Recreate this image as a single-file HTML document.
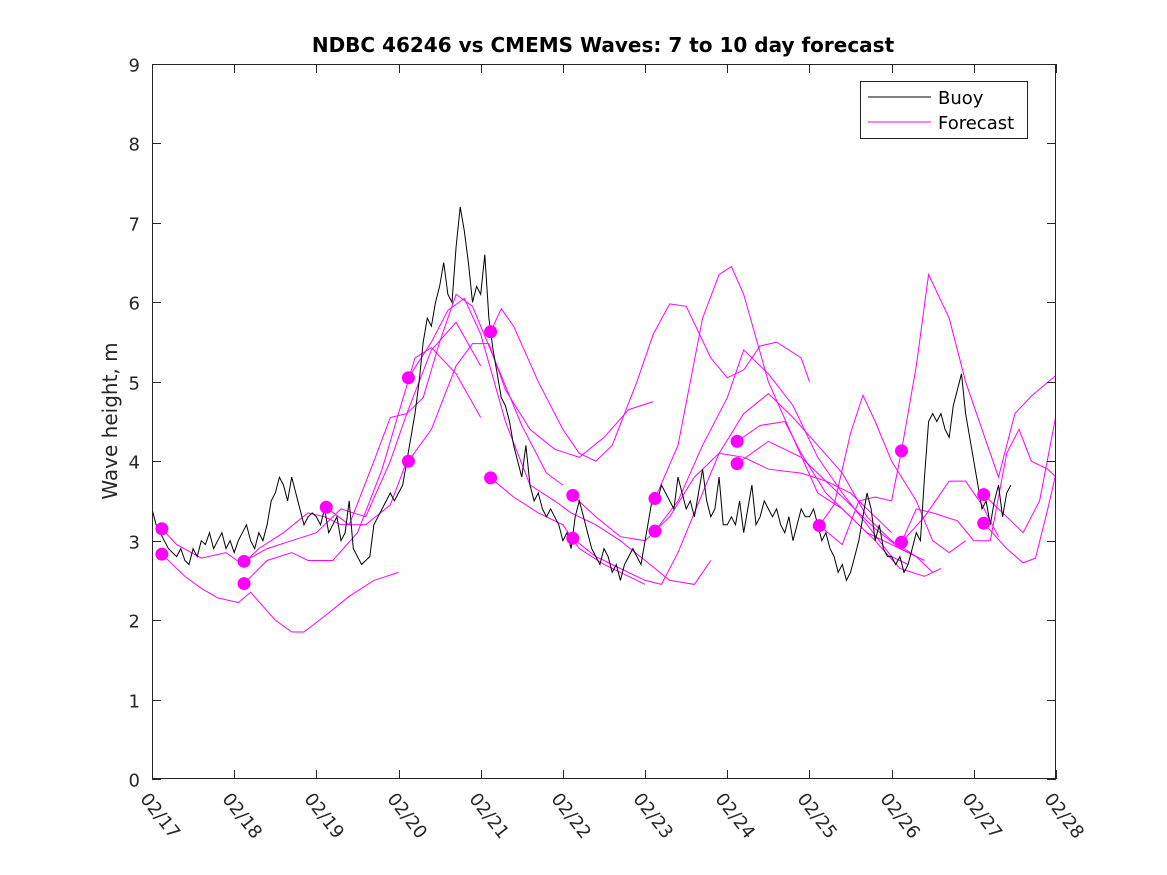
<!DOCTYPE html>
<html><head><meta charset="utf-8"><style>
html,body{margin:0;padding:0;background:#fff;}
svg{display:block;font-family:"DejaVu Sans","Liberation Sans",sans-serif;}
</style></head><body>
<svg id="chart" width="1167" height="875">
<defs><clipPath id="clip"><rect x="152" y="64" width="904" height="715"/></clipPath></defs>
<rect x="0" y="0" width="1167" height="875" fill="#fff"/>
<text x="603" y="52" text-anchor="middle" font-size="20" font-weight="bold" fill="#000">NDBC 46246 vs CMEMS Waves: 7 to 10 day forecast</text>
<g id="plot"></g>
<g>
<rect x="860.5" y="81.5" width="167" height="57" fill="#fff" stroke="#262626" stroke-width="1"/>
<line x1="868" y1="97" x2="931" y2="97" stroke="#000" stroke-width="1"/>
<text x="938" y="104" font-size="18" fill="#000">Buoy</text>
<line x1="868" y1="122" x2="931" y2="122" stroke="#f0f" stroke-width="1"/>
<text x="938" y="129" font-size="18" fill="#000">Forecast</text>
</g>
</svg>
<script>
const xTicks = ["02/17","02/18","02/19","02/20","02/21","02/22","02/23","02/24","02/25","02/26","02/27","02/28"];
const yTicks = [0,1,2,3,4,5,6,7,8,9];
const buoyStart = 0, buoyStep = 0.05;
const buoy = [3.4,3.2,3.1,3.0,2.9,2.85,2.8,2.9,2.75,2.7, 2.9,2.8,3.0,2.95,3.1,2.9,3.0,3.1,2.9,3.0,
2.85,3.0,3.1,3.2,3.0,2.9,3.1,3.0,3.2,3.5, 3.6,3.8,3.7,3.5,3.8,3.6,3.4,3.2,3.3,3.35,
3.3,3.2,3.4,3.1,3.2,3.3,3.0,3.1,3.5,2.9, 2.8,2.7,2.75,2.8,3.2,3.3,3.4,3.5,3.6,3.5,
3.6,3.7,4.0,4.3,4.6,5.0,5.5,5.8,5.7,6.0, 6.2,6.5,6.1,6.0,6.7,7.2,6.9,6.5,6.0,6.2,
6.1,6.6,5.8,5.4,5.1,4.8,4.7,4.5,4.2,4.0, 3.8,4.2,3.7,3.5,3.6,3.4,3.3,3.4,3.3,3.2,
3.0,3.1,2.9,3.3,3.5,3.3,3.1,2.9,2.8,2.7, 2.9,2.8,2.6,2.7,2.5,2.7,2.8,2.9,2.8,2.7,
3.0,3.3,3.6,3.5,3.7,3.6,3.5,3.4,3.8,3.6, 3.4,3.5,3.3,3.6,3.9,3.5,3.3,3.4,3.8,3.2,
3.2,3.3,3.2,3.5,3.1,3.4,3.7,3.2,3.3,3.5, 3.4,3.3,3.4,3.2,3.1,3.3,3.0,3.2,3.4,3.3,
3.3,3.4,3.2,3.0,3.1,2.9,2.8,2.6,2.7,2.5, 2.6,2.8,3.0,3.3,3.6,3.4,3.0,3.2,2.9,2.8,
2.8,2.7,2.8,2.6,2.7,2.9,3.1,3.0,3.8,4.5, 4.6,4.5,4.6,4.4,4.3,4.7,4.9,5.1,4.6,4.3,
4.0,3.7,3.4,3.5,3.2,3.5,3.7,3.3,3.6,3.7];
const forecastDays = [
[0.12,0.4,0.6,0.8,1.05,1.2,1.5,1.7,1.85,2.1,2.4,2.7,3.0],
[0.12,0.3,0.6,0.9,1.1,1.3,1.6,1.9,2.1,2.3,2.6,2.9,3.1],
[1.12,1.4,1.7,2.0,2.3,2.6,2.9,3.1,3.4,3.7,4.0],
[1.12,1.4,1.7,1.9,2.2,2.5,2.8,3.0,3.2,3.4,3.7,4.0],
[2.12,2.4,2.7,2.9,3.1,3.3,3.5,3.7,3.9,4.2,4.5,4.8,5.0],
[3.12,3.4,3.7,3.9,4.1,4.3,4.6,4.9,5.2,5.5,5.8,6.1],
[3.12,3.4,3.6,3.8,4.0,4.3,4.6,4.9,5.1,5.4,5.7,6.0,6.3,6.6,6.8],
[4.12,4.4,4.7,5.0,5.2,5.5,5.8,6.0],
[4.12,4.25,4.4,4.7,5.0,5.2,5.4,5.6,5.9,6.1,6.3,6.5,6.8,7.0,7.2,7.4,7.6,7.9,8.0],
[5.12,5.4,5.7,6.0,6.3,6.6,6.9,7.2,7.5,7.9,8.2,8.5,8.8,9.0],
[5.12,5.4,5.7,6.0,6.2,6.4,6.7,6.9,7.2,7.5,7.8,8.1,8.4,8.7,9.0,9.3],
[6.12,6.4,6.7,6.9,7.05,7.2,7.5,7.8,8.1,8.4,8.7,9.0,9.3,9.5],
[6.12,6.4,6.7,7.0,7.2,7.5,7.8,8.1,8.4,8.7,9.0,9.2],
[7.12,7.4,7.7,7.9,8.2,8.5,8.8,9.1,9.4,9.6],
[7.12,7.5,7.9,8.2,8.5,8.8,9.1,9.4],
[8.12,8.4,8.6,8.8,9.0,9.12],
[8.12,8.3,8.5,8.65,8.8,9.0,9.3,9.5,9.7,9.9],
[9.12,9.3,9.45,9.7,9.9,10.1,10.3,10.5,10.7,11.0],
[9.12,9.3,9.5,9.8,10.0,10.2,10.4,10.55,10.7,10.9,11.0],
[9.12,9.4,9.7,9.9,10.1,10.3],
[10.12,10.4,10.6,10.8,11.0],
[10.12,10.4,10.6,10.75,10.9,11.0]];
const forecastVals = [
[2.83,2.55,2.4,2.28,2.22,2.35,2.0,1.85,1.85,2.05,2.3,2.5,2.6],
[3.15,2.95,2.78,2.85,2.7,2.9,3.1,3.35,3.3,3.2,3.2,3.45,4.0],
[2.74,2.9,3.0,3.1,3.4,3.3,4.0,4.6,5.4,5.75,5.2],
[2.46,2.75,2.85,2.75,2.75,3.1,3.9,4.6,5.3,5.43,5.1,4.55],
[3.42,3.2,4.0,4.55,4.6,4.8,5.5,6.1,5.95,5.2,4.45,3.85,3.7],
[4.0,4.4,5.2,5.48,5.48,4.9,4.4,4.15,4.05,4.3,4.65,4.75],
[5.05,5.5,5.9,6.05,5.6,4.5,3.7,3.5,3.35,3.2,3.0,2.75,2.5,2.45,2.75],
[3.79,3.55,3.35,3.2,2.9,2.7,2.55,2.45],
[5.63,5.92,5.7,5.0,4.4,4.1,4.0,4.2,5.0,5.6,5.98,5.95,5.3,5.05,5.15,5.45,5.5,5.3,5.0],
[3.57,3.3,3.05,3.0,3.3,3.8,4.1,4.05,3.9,3.85,3.75,3.6,3.3,3.1],
[3.03,2.8,2.65,2.5,2.45,2.85,3.6,4.1,4.6,4.85,4.55,4.2,3.85,3.3,3.0,2.8],
[3.53,4.2,5.8,6.35,6.45,6.1,5.0,4.3,3.6,3.4,3.1,2.95,2.8,2.6],
[3.12,3.5,4.2,4.8,5.4,5.1,4.7,4.05,3.6,3.2,2.8,2.7],
[4.25,4.45,4.5,4.1,3.6,3.3,3.0,2.65,2.55,2.65],
[3.97,4.25,4.05,3.75,3.45,3.15,2.9,2.75],
[3.19,2.95,3.5,3.55,3.5,4.13],
[3.19,3.45,4.35,4.83,4.5,4.0,3.5,3.0,2.85,3.0],
[4.13,5.2,6.35,5.8,5.0,4.4,3.8,4.6,4.82,5.08],
[2.98,3.4,3.35,3.25,3.0,3.0,4.1,4.4,4.0,3.9,3.8],
[2.98,3.3,3.75,3.75,3.45,3.05],
[3.58,3.3,3.1,3.5,4.58],
[3.22,2.9,2.72,2.78,3.4,3.85]];
const dotDays = [0.12,0.12,1.12,1.12,2.12,3.12,3.12,4.12,4.12,5.12,5.12,6.12,6.12,7.12,7.12,8.12,9.12,9.12,10.12,10.12];
const dotVals = [3.15,2.83,2.74,2.46,3.42,5.05,4.0,5.63,3.79,3.57,3.03,3.53,3.12,4.25,3.97,3.19,4.13,2.98,3.58,3.22];

const X0=152,X1=1056,Y0=779,Y1=64;
const xs=d=>X0+(X1-X0)*d/11;
const ys=v=>Y0-(Y0-Y1)*v/9;
const NS="http://www.w3.org/2000/svg";
const plot=document.getElementById('plot');
function mk(tag,attrs,parent){const e=document.createElementNS(NS,tag);for(const k in attrs)e.setAttribute(k,attrs[k]);(parent||plot).appendChild(e);return e;}

const bg=mk('rect',{x:X0,y:Y1,width:X1-X0,height:Y0-Y1,fill:'#fff'});


const g=mk('g',{'clip-path':'url(#clip)'});

forecastDays.forEach((days,i)=>{
  const pts=days.map((d,j)=>xs(d).toFixed(1)+','+ys(forecastVals[i][j]).toFixed(1)).join(' ');
  const pl=mk('polyline',{points:pts,fill:'none',stroke:'#f0f','stroke-width':1},g);
  
  
});
const bpts=buoy.map((v,i)=>xs(buoyStart+i*buoyStep).toFixed(1)+','+ys(v).toFixed(1)).join(' ');
const bl=mk('polyline',{points:bpts,fill:'none',stroke:'#000','stroke-width':1},g);


dotDays.forEach((d,i)=>{
  const c=mk('circle',{cx:xs(d),cy:ys(dotVals[i]),r:6.5,fill:'#f0f'});
  
  
});
const box=mk('rect',{x:X0+0.5,y:Y1+0.5,width:X1-X0-1,height:Y0-Y1-1,fill:'none',stroke:'#262626','stroke-width':1});


xTicks.forEach((t,i)=>{
  const x=Math.round(xs(i))+0.5;
  mk('line',{x1:x,y1:Y0,x2:x,y2:Y0-9,stroke:'#262626'});
  mk('line',{x1:x,y1:Y1,x2:x,y2:Y1+9,stroke:'#262626'});
  const tx=mk('text',{x:0,y:0,'font-size':18,fill:'#262626',transform:'translate('+(x-13)+','+(Y0+20)+') rotate(52)'});
  tx.textContent=t;
  
  
});
yTicks.forEach(v=>{
  const y=Math.round(ys(v))+0.5;
  mk('line',{x1:X0,y1:y,x2:X0+9,y2:y,stroke:'#262626'});
  mk('line',{x1:X1,y1:y,x2:X1-9,y2:y,stroke:'#262626'});
  const tx=mk('text',{x:X0-12,y:y+7,'font-size':18,fill:'#262626','text-anchor':'end'});
  tx.textContent=v;
  
  
});
const yt=mk('text',{x:0,y:0,'font-size':20,fill:'#262626','text-anchor':'middle',transform:'translate(117,421) rotate(-90)'});
yt.textContent='Wave height, m';


</script>
</body></html>
